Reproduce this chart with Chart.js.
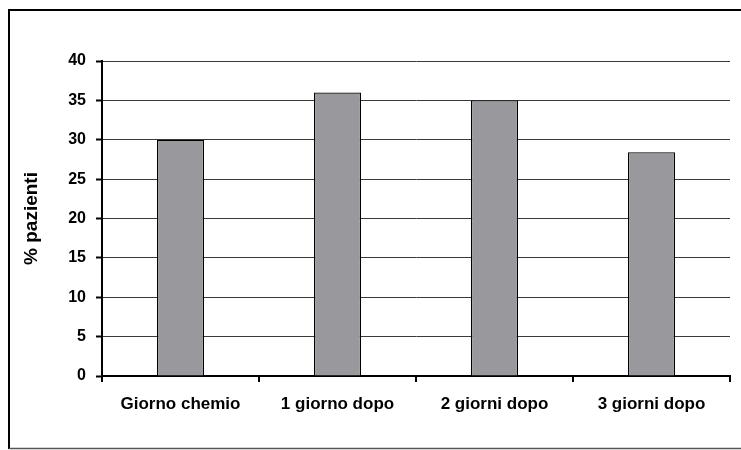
<!DOCTYPE html>
<html>
<head>
<meta charset="utf-8">
<script src="https://cdn.jsdelivr.net/npm/chart.js@4/dist/chart.umd.min.js"></script>
<style>
  html, body { margin: 0; padding: 0; background: #fff; }
  #wrap { width: 741px; height: 450px; position: relative; }
</style>
</head>
<body>
<div id="wrap"><canvas id="chart"></canvas></div>
<script>
const categories = ["Giorno chemio", "1 giorno dopo", "2 giorni dopo", "3 giorni dopo"];
const pazienti = [30, 36, 35, 28.4];
const yTicks = [0, 5, 10, 15, 20, 25, 30, 35, 40];

// cornice attorno al grafico
const framePlugin = {
  id: "frame",
  beforeDraw(chart) {
    const c = chart.ctx;
    c.save();
    c.strokeStyle = "#000";
    c.lineWidth = 2;
    c.beginPath();
    c.moveTo(9, 449);
    c.lineTo(9, 10);
    c.lineTo(741, 10);
    c.stroke();
    c.strokeStyle = "#555";
    c.lineWidth = 1.5;
    c.beginPath();
    c.moveTo(9, 448.5);
    c.lineTo(741, 448.5);
    c.stroke();
    c.restore();
  }
};

const ctx = document.getElementById("chart").getContext("2d");
new Chart(ctx, {
  type: "bar",
  data: {
    labels: categories,
    datasets: [{
      label: "% pazienti",
      data: pazienti,
      backgroundColor: "#99989d",
      borderColor: "#000",
      borderWidth: 1.2,
      categoryPercentage: 1,
      barPercentage: 0.3
    }]
  },
  options: {
    responsive: true,
    maintainAspectRatio: false,
    animation: false,
    layout: { padding: { left: 20, top: 61, right: 11, bottom: 0 } },
    plugins: { legend: { display: false }, tooltip: { enabled: false } },
    scales: {
      x: {
        afterFit: (s) => { s.height = 74; },
        grid: { offset: true, drawOnChartArea: false, drawTicks: true, tickLength: 6, color: "#000", lineWidth: 2 },
        border: { color: "#000", width: 2 },
        ticks: { color: "#000", padding: 12, font: { family: "Liberation Sans", weight: "bold", size: 17 } }
      },
      y: {
        min: 0,
        max: 40,
        afterFit: (s) => { s.width = 102 - 20; },
        afterBuildTicks: (s) => { s.ticks = yTicks.map(v => ({ value: v })); },
        grid: { color: "#3a3a3a", lineWidth: 1, tickLength: 6, tickColor: "#000", tickWidth: 2 },
        border: { color: "#000", width: 2 },
        ticks: { color: "#000", padding: 10, font: { family: "Liberation Sans", weight: "bold", size: 16 } },
        title: {
          display: true,
          text: "% pazienti",
          color: "#000",
          padding: 0,
          font: { family: "Liberation Sans", weight: "bold", size: 19 }
        }
      }
    }
  },
  plugins: [framePlugin]
});
</script>
</body>
</html>
